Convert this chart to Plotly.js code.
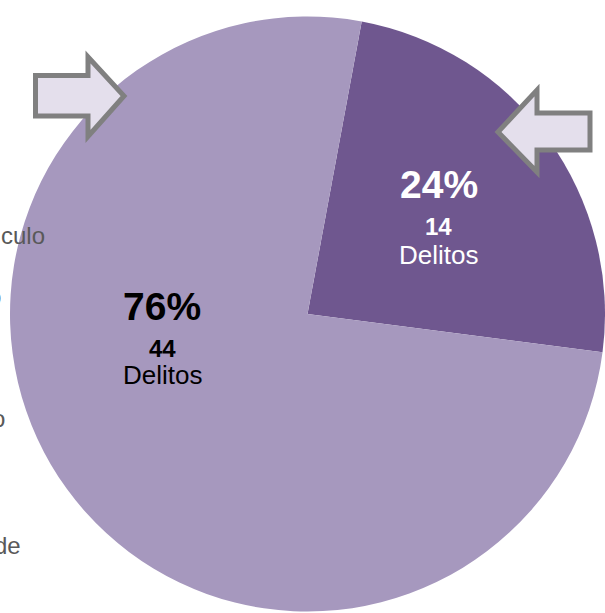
<!DOCTYPE html>
<html>
<head>
<meta charset="utf-8">
<script src="https://cdn.plot.ly/plotly-3.0.1.min.js"></script>
<style>html,body{margin:0;padding:0;background:#fff;}#chart{width:605px;height:613px;}</style>
</head>
<body>
<div id="chart"></div>
<script>
// Data
const categories = ["Grupo A", "Grupo B"];
const values = [14, 44];
const countLabels = ["14", "44"];
const unitLabel = "Delitos";
const legendFragments = ["culo", "o", "o", "de"];

const W = 605, H = 613, ML = 10, MT = 15;
const PW = W - ML, PH = H - MT;
const px = x => (x - ML) / PW;
const py = y => (H - y) / PH;

const trace = {
  type: "pie",
  labels: categories,
  values: values,
  sort: false,
  direction: "clockwise",
  rotation: 10.5,
  marker: { colors: ["#6F578F", "#A698BE"], line: { width: 0 } },
  textinfo: "none",
  hoverinfo: "none",
  showlegend: false
};

const total = values.reduce((a, b) => a + b, 0);
const ann = [];
const FONT = "Liberation Sans, Arial, sans-serif";
const lbl = [
  { x: 438.5, ys: [184, 226.5, 255], color: "#FFFFFF" },
  { x: 162, ys: [306.5, 348, 375], color: "#000000" }
];
lbl.forEach((l, i) => {
  ann.push({ text: "<b>" + Math.round(values[i] / total * 100) + "%</b>", x: px(l.x), y: py(l.ys[0]), xref: "paper", yref: "paper", showarrow: false, font: { family: FONT, size: 39, color: l.color }, xanchor: "center", yanchor: "middle" });
  ann.push({ text: "<b>" + countLabels[i] + "</b>", x: px(l.x), y: py(l.ys[1]), xref: "paper", yref: "paper", showarrow: false, font: { family: FONT, size: 24, color: l.color }, xanchor: "center", yanchor: "middle" });
  ann.push({ text: unitLabel, x: px(l.x), y: py(l.ys[2]), xref: "paper", yref: "paper", showarrow: false, font: { family: FONT, size: 26, color: l.color }, xanchor: "center", yanchor: "middle" });
});

const legendPos = [[47, 236], [3, 296], [7, 418], [23, 545]];
legendFragments.forEach((t, i) => {
  ann.push({ text: t, x: px(legendPos[i][0]), y: py(legendPos[i][1]), xref: "paper", yref: "paper", showarrow: false, font: { family: FONT, size: 24, color: "#595959" }, xanchor: "right", yanchor: "middle" });
});

function pathOf(pts) {
  return "M " + pts.map(p => px(p[0]) + "," + py(p[1])).join(" L ") + " Z";
}
const arrowRight = [[35.5, 75.5], [88, 75.5], [88, 57], [124, 96], [88, 136.5], [88, 116], [35.5, 116]];
const arrowLeft = [[590, 113], [537, 113], [537, 90], [498, 132], [537, 172], [537, 150], [590, 150]];
const shapes = [arrowRight, arrowLeft].map(p => ({
  type: "path", xref: "paper", yref: "paper", path: pathOf(p),
  fillcolor: "#E4DFEC", line: { color: "#808080", width: 5 }, layer: "above"
}));

Plotly.newPlot("chart", [trace], {
  width: W, height: H,
  margin: { l: ML, r: 0, t: MT, b: 0, pad: 0 },
  paper_bgcolor: "#FFFFFF",
  annotations: ann,
  shapes: shapes,
  showlegend: false
}, { displayModeBar: false, staticPlot: true });
</script>
</body>
</html>
